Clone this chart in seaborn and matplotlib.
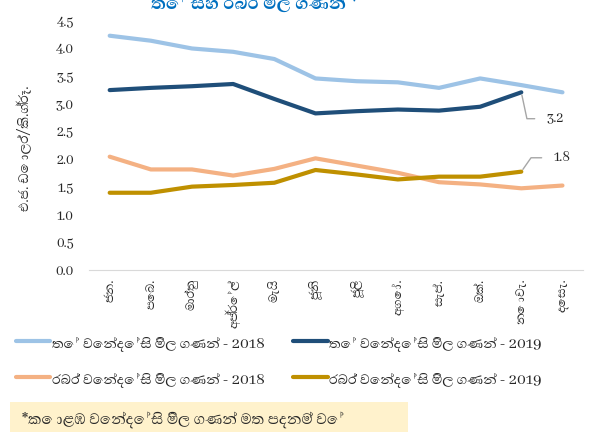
import pandas as pd
import matplotlib
matplotlib.use("Agg")
import matplotlib.pyplot as plt
from matplotlib import font_manager
from matplotlib.patches import Rectangle
import seaborn as sns

months = ["ජන.", "පෙබ.", "මාර්තු", "අප්‍රේල්", "මැයි", "ජූනි", "ජූලි",
          "අගෝ.", "සැප්.", "ඔක්.", "නොවැ.", "දෙසැ."]

tea_2018 = [4.23, 4.14, 4.00, 3.94, 3.81, 3.46, 3.41, 3.39, 3.29, 3.46, 3.34, 3.21]
tea_2019 = [3.25, 3.29, 3.32, 3.36, 3.09, 2.83, 2.87, 2.90, 2.88, 2.95, 3.21]
rubber_2018 = [2.05, 1.82, 1.82, 1.71, 1.83, 2.02, 1.89, 1.76, 1.59, 1.55, 1.48, 1.53]
rubber_2019 = [1.40, 1.40, 1.51, 1.54, 1.58, 1.81, 1.73, 1.64, 1.69, 1.69, 1.78]

labels = ["තේ වෙන්දේසි මිල ගණන් - 2018", "තේ වෙන්දේසි මිල ගණන් - 2019",
          "රබර් වෙන්දේසි මිල ගණන් - 2018", "රබර් වෙන්දේසි මිල ගණන් - 2019"]
colors = ["#9DC3E6", "#1F4E79", "#F4B183", "#BF9000"]

title = "තේ සහ රබර් මිල ගණන් *"
ylabel = "එ.ජ. ඩොලර්/කි.ග්‍රෑ."
note = "*කොළඹ වෙන්දේසි මිල ගණන් මත පදනම් වේ"

# look for any font that can draw Sinhala, fall back to DejaVu
sinhala = []
for f in font_manager.fontManager.ttflist:
    if any(k in f.name for k in ["Sinhala", "Iskoola", "Abhaya", "Yaldevi"]):
        if f.name not in sinhala:
            sinhala.append(f.name)
sans = sinhala + ["Lato", "DejaVu Sans"]
serif = sinhala + ["Liberation Serif", "DejaVu Sans"]

sns.set_style("white")
plt.rcParams["font.family"] = sans

rows = []
for name, vals in zip(labels, [tea_2018, tea_2019, rubber_2018, rubber_2019]):
    for m, v in zip(months, vals):
        rows.append({"month": m, "value": v, "series": name})
df = pd.DataFrame(rows)

fig = plt.figure(figsize=(5.98, 4.32), dpi=100)
ax = fig.add_axes([0.149, 0.374, 0.826, 0.578])

sns.lineplot(data=df, x="month", y="value", hue="series", hue_order=labels,
             palette=colors, linewidth=3, sort=False, ax=ax, legend=False)

ax.set_xlim(-0.5, 11.5)
ax.set_ylim(0, 4.5)
ax.set_yticks([i * 0.5 for i in range(10)])
ax.set_yticklabels([f"{i * 0.5:.1f}" for i in range(10)], fontsize=11)
ax.set_xticks(range(12))
ax.set_xticklabels(months, rotation=90, fontsize=11)
ax.tick_params(axis="y", length=0, pad=11)
ax.tick_params(axis="x", length=0, pad=6)
ax.set_xlabel("")
ax.set_ylabel("")
for s in ["top", "right", "left"]:
    ax.spines[s].set_visible(False)
ax.spines["bottom"].set_color("#D9D9D9")
ax.grid(False)

# data labels on the last 2019 points
ax.annotate(f"{tea_2019[-1]:.1f}", xy=(len(tea_2019) - 1, tea_2019[-1]),
            xytext=(18, -19), textcoords="offset points", ha="left", va="center",
            fontsize=11, arrowprops=dict(arrowstyle="-", color="#A6A6A6", lw=1,
                                         shrinkA=6, shrinkB=2,
                                         connectionstyle="angle,angleA=0,angleB=-78,rad=0"))
ax.annotate(f"{rubber_2019[-1]:.1f}", xy=(len(rubber_2019) - 1, rubber_2019[-1]),
            xytext=(23, 10), textcoords="offset points", ha="left", va="center",
            fontsize=11, arrowprops=dict(arrowstyle="-", color="#A6A6A6", lw=1,
                                         shrinkA=6, shrinkB=2,
                                         connectionstyle="angle,angleA=0,angleB=55,rad=0"))

fig.text(0.426, 1 - 9 / 432, title, ha="center", va="baseline", fontsize=16,
         fontweight="bold", color="#0070C0")
fig.text(25 / 598, 1 - 148 / 432, ylabel, rotation=90, ha="center", va="center",
         fontsize=12)

# legend, two per row
handles = [plt.Line2D([], [], color=c, lw=3) for c in colors]
order = [0, 2, 1, 3]
fig.legend([handles[i] for i in order], [labels[i] for i in order],
           loc="upper left", bbox_to_anchor=(0.0, 0.26), ncol=2, frameon=False,
           handlelength=2.0, handletextpad=0.1, columnspacing=1.6,
           labelspacing=1.1, prop={"family": serif, "size": 12.5})

fig.patches.append(Rectangle((10 / 598, 0), 398 / 598, 30 / 432,
                             transform=fig.transFigure, facecolor="#FFF2CC",
                             edgecolor="none", zorder=0))
fig.text(22 / 598, 1 - 420 / 432, note, ha="left", va="center", fontsize=13.5,
         family=serif)

fig.savefig("out.png", dpi=100)
